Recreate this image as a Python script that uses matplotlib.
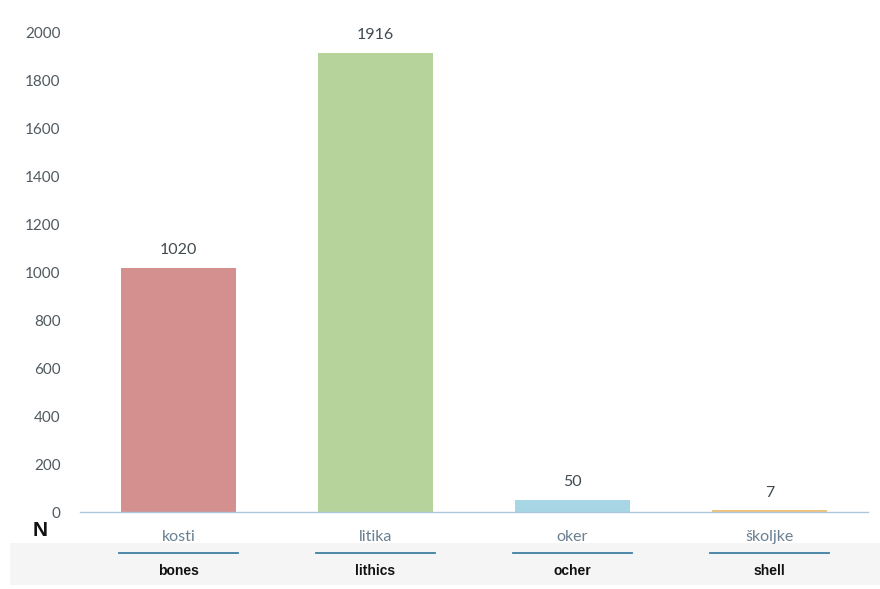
import matplotlib
matplotlib.use("Agg")
import matplotlib.pyplot as plt
import matplotlib.patches as patches
from matplotlib.transforms import blended_transform_factory

# data
categories = ["kosti", "litika", "oker", "školjke"]
english = ["bones", "lithics", "ocher", "shell"]
counts = [1020, 1916, 50, 7]
colors = ["#d4908f", "#b7d39c", "#a7d6e5", "#f2c27c"]
yticks = [0, 200, 400, 600, 800, 1000, 1200, 1400, 1600, 1800, 2000]

plt.rcParams["font.family"] = ["Lato", "DejaVu Sans"]

W, H = 880, 589
fig = plt.figure(figsize=(W / 100, H / 100), dpi=100)

ax = fig.add_axes([80 / W, (H - 512) / H, 788 / W, 479 / H])
ax.set_facecolor("none")

# light grey band behind the english labels
ax.add_patch(patches.Rectangle((10 / W, 4 / H), 1 - 10 / W, 42 / H,
                               transform=fig.transFigure, facecolor="#f5f5f5",
                               edgecolor="none", zorder=0, clip_on=False))

x = list(range(len(categories)))
ax.bar(x, counts, width=0.58, color=colors, zorder=2)

for xi, v in zip(x, counts):
    ax.text(xi, v + 45, str(v), ha="center", va="bottom", fontsize=11.5, color="#404a50")

ax.set_xlim(-0.5, len(categories) - 0.5)
ax.set_ylim(0, 2000)
ax.set_yticks(yticks)
ax.tick_params(axis="y", length=0, labelsize=11, labelcolor="#505a60", pad=14)
ax.set_xticks([])
for s in ["top", "right", "left"]:
    ax.spines[s].set_visible(False)
ax.spines["bottom"].set_color("#a9c8e0")
ax.spines["bottom"].set_linewidth(1)

# two rows of category labels under the axis
tr = blended_transform_factory(ax.transData, fig.transFigure)
for xi, cat, eng in zip(x, categories, english):
    ax.text(xi, (H - 537) / H, cat, transform=tr, ha="center", va="center",
            fontsize=11.5, color="#6a7f90", zorder=3)
    ax.plot([xi - 0.3, xi + 0.3], [(H - 553) / H] * 2, transform=tr,
            color="#3f7fa3", linewidth=1.3, clip_on=False, zorder=3)
    ax.text(xi, (H - 571) / H, eng, transform=tr, ha="center", va="center",
            fontsize=10, fontweight="bold", color="#111111", zorder=3,
            family=["Liberation Sans", "DejaVu Sans"])

fig.text(40 / W, (H - 530) / H, "N", ha="center", va="center",
         fontsize=15, fontweight="bold", color="#111111",
         family=["Liberation Sans", "DejaVu Sans"])

fig.savefig("out.png", dpi=100)
